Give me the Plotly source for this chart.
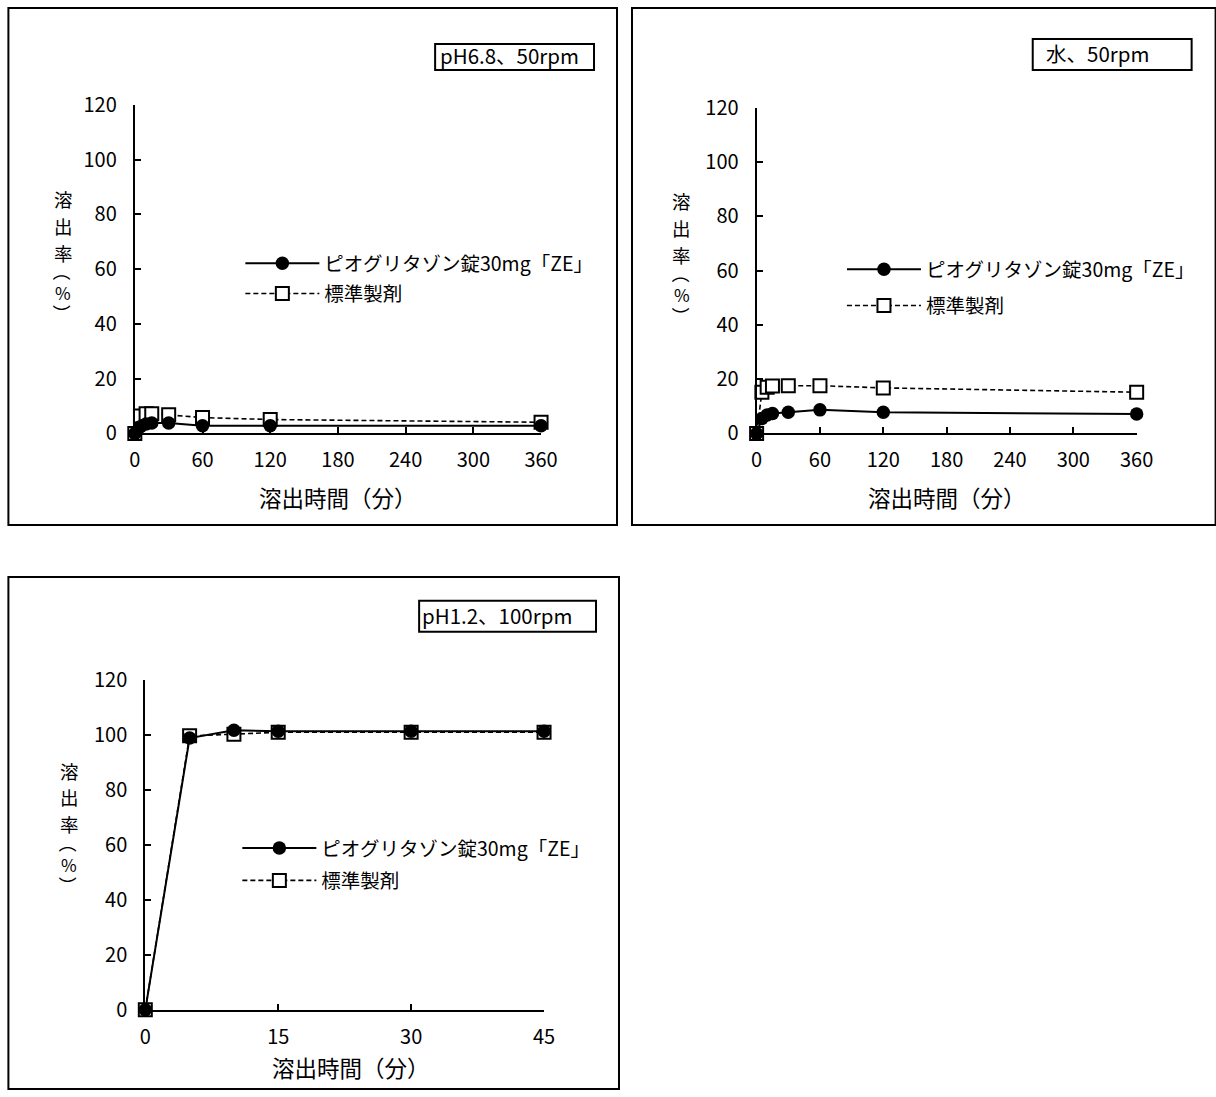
import plotly.graph_objects as go

# Figure size in CSS px; the photographed page maps page px -> picture px with
# picture = S * page + O (measured), so layout positions below are given in
# picture pixels and converted.
TOP_SHIFT = -12
W, H = 1234, 1121
SX, OX = 0.982, 4.6
SY, OY = 0.976, 14.7 + TOP_SHIFT * 0.976


def fx(x):
    return (x - OX) / SX


def fy(y):
    return (y - OY) / SY


def px(x):
    return fx(x) / W


def py(y):
    return 1 - fy(y) / H


FONT = "Noto Sans CJK JP"

# ---------------- data ----------------
time_long = [0, 5, 10, 15, 30, 60, 120, 360]
ph68_test = [0, 2.5, 3.5, 3.8, 3.8, 2.8, 2.8, 2.8]
ph68_ref = [0, 6.4, 7.2, 7.2, 6.8, 5.8, 5.1, 4.1]
water_test = [0, 5.5, 6.8, 7.4, 7.8, 8.7, 7.8, 7.2]
water_ref = [0, 15.2, 17.0, 17.5, 17.6, 17.6, 16.8, 15.2]
time_short = [0, 5, 10, 15, 30, 45]
ph12_test = [0, 98.8, 101.6, 101.3, 101.3, 101.3]
ph12_ref = [0, 99.6, 100.2, 100.9, 100.9, 100.9]

name_test = "ピオグリタゾン錠30mg「ZE」"
name_ref = "標準製剤"
cond_titles = ["pH6.8、50rpm", "水、50rpm", "pH1.2、100rpm"]
x_title = "溶出時間（分）"
y_title_chars = ["溶", "出", "率", "（", "%", "）"]
y_ticks = [0, 20, 40, 60, 80, 100, 120]

fig = go.Figure()

panels = [
    dict(x=time_long, test=ph68_test, ref=ph68_ref, xa="x", ya="y", leg="legend"),
    dict(x=time_long, test=water_test, ref=water_ref, xa="x2", ya="y2", leg="legend2"),
    dict(x=time_short, test=ph12_test, ref=ph12_ref, xa="x3", ya="y3", leg="legend3"),
]

for p in panels:
    fig.add_trace(go.Scatter(
        x=p["x"], y=p["ref"], name=name_ref, mode="lines+markers",
        xaxis=p["xa"], yaxis=p["ya"], legend=p["leg"], legendrank=2,
        legendgroup="r" + p["leg"],
        line=dict(color="black", width=1.6, dash="5px,3px"),
        marker=dict(symbol="square", size=13, color="white",
                    line=dict(color="black", width=2)),
        cliponaxis=False,
    ))
    fig.add_trace(go.Scatter(
        x=p["x"], y=p["test"], name=name_test, mode="lines+markers",
        xaxis=p["xa"], yaxis=p["ya"], legend=p["leg"], legendrank=1,
        legendgroup="t" + p["leg"],
        line=dict(color="black", width=2),
        marker=dict(symbol="circle", size=13.5, color="black",
                    line=dict(color="black", width=0)),
        cliponaxis=False,
    ))

axis_common = dict(
    showline=True, linecolor="black", linewidth=2, mirror=False,
    ticks="inside", ticklen=6, tickwidth=2, tickcolor="black",
    showgrid=False, zeroline=False,
    tickfont=dict(family=FONT, size=20, color="black"),
)

# plot-area geometry in picture pixels: (x0, x1, ytop, ybottom)
geo = [
    (133.5, 540, 104, 433.3),
    (755.7, 1136, 107, 433.3),
    (144, 543, 680, 1010.7),
]
xranges = [[0, 360], [0, 360], [0, 45]]
xdticks = [60, 60, 15]

for i, (x0, x1, yt, yb) in enumerate(geo):
    sfx = "" if i == 0 else str(i + 1)
    fig.update_layout(**{
        "xaxis" + sfx: dict(axis_common, domain=[px(x0), px(x1)], range=xranges[i],
                            dtick=xdticks[i], tick0=0, anchor="y" + sfx,
                            ticklabelstandoff=8),
        "yaxis" + sfx: dict(axis_common, domain=[py(yb), py(yt)], range=[0, 120],
                            tickvals=y_ticks, anchor="x" + sfx,
                            ticklabelstandoff=12),
    })

shapes = []
annotations = []

# outer panel boxes
for (bx0, by0, bx1, by1) in [(7, 7, 616, 525), (631, 7, 1215, 525), (7, 577, 618, 1090)]:
    shapes.append(dict(type="rect", xref="paper", yref="paper",
                       x0=px(bx0), x1=px(bx1), y0=py(by1), y1=py(by0),
                       line=dict(color="black", width=2), fillcolor="rgba(0,0,0,0)"))

# condition title boxes
title_boxes = [(434, 43, 593, 69), (1032, 38, 1191, 69), (418, 601, 595, 632)]
title_text_left = [437, 1043, 419]
for t, (bx0, by0, bx1, by1), tl in zip(cond_titles, title_boxes, title_text_left):
    shapes.append(dict(type="rect", xref="paper", yref="paper",
                       x0=px(bx0), x1=px(bx1), y0=py(by1), y1=py(by0),
                       line=dict(color="black", width=2), fillcolor="white"))
    annotations.append(dict(text=t, xref="paper", yref="paper",
                            x=px(tl), y=py((by0 + by1) / 2 - 1.5),
                            xanchor="left", yanchor="middle", showarrow=False,
                            font=dict(family=FONT, size=20.5, color="black")))

# x axis titles
for cx, cy in [(337, 497), (946, 497), (350, 1068)]:
    annotations.append(dict(text=x_title, xref="paper", yref="paper",
                            x=px(cx), y=py(cy), xanchor="center",
                            yanchor="middle", showarrow=False,
                            font=dict(family=FONT, size=22.5, color="black")))

# vertical y axis titles: upright characters stacked, brackets turned 90 degrees
yt_sizes = [18.5, 18.5, 18.5, 18, 17, 18]
yt_offsets = [0, 27, 54, 73.5, 94.5, 115.5]
for cx, y_first in [(62, 198), (681, 200), (68, 771)]:
    for ch, sz, dy in zip(y_title_chars, yt_sizes, yt_offsets):
        ang = 90 if ch in ("（", "）") else 0
        annotations.append(dict(text=ch, xref="paper", yref="paper",
                                x=px(cx), y=py(y_first + dy), xanchor="center",
                                yanchor="middle", showarrow=False, textangle=ang,
                                borderpad=0,
                                font=dict(family=FONT, size=sz, color="black")))

legend_common = dict(
    font=dict(family=FONT, size=19.5, color="black"),
    bgcolor="rgba(0,0,0,0)", borderwidth=0, itemwidth=74,
    xanchor="left", yanchor="top", tracegroupgap=2,
    itemclick=False, itemdoubleclick=False,
)


def leg_pos(line_start, row1):
    return dict(x=(fx(line_start) - 6) / W, y=1 - (fy(row1) - 19) / H)


fig.update_layout(
    legend=dict(legend_common, **leg_pos(245, 262)),
    legend2=dict(legend_common, tracegroupgap=8, **leg_pos(847, 268)),
    legend3=dict(legend_common, tracegroupgap=4, **leg_pos(242, 848)),
)

fig.update_layout(
    width=W, height=H,
    margin=dict(l=0, r=0, t=0, b=0),
    paper_bgcolor="white", plot_bgcolor="white",
    showlegend=True,
    shapes=shapes, annotations=annotations,
    font=dict(family=FONT, color="black"),
)

fig.write_html(
    "out.html",
    config={"displayModeBar": False, "staticPlot": True},
    post_script=("document.body.style.margin='0px';"
                 "document.body.style.marginTop='%dpx';"
                 "document.body.style.overflow='hidden';" % TOP_SHIFT),
)
